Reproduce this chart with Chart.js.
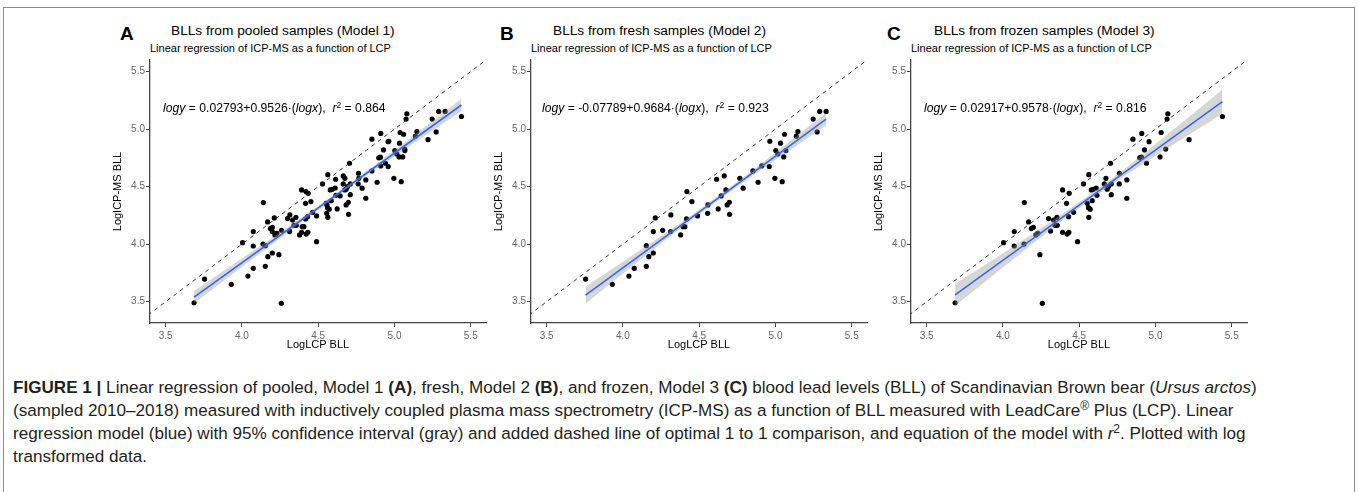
<!DOCTYPE html>
<html><head><meta charset="utf-8">
<script src="https://cdn.jsdelivr.net/npm/chart.js@4.4.1/dist/chart.umd.min.js"></script>
<style>
html,body{margin:0;padding:0;background:#fff;}
body{width:1358px;height:492px;position:relative;overflow:hidden;font-family:"Liberation Sans",Arial,sans-serif;}
.frame{position:absolute;left:3px;top:7px;width:1350px;height:490px;border:1px solid #8a8a8a;}
.abs{position:absolute;white-space:nowrap;color:#000;}
.letter{font-weight:bold;font-size:19px;line-height:20px;}
.ttl{font-size:13.7px;line-height:16px;}
.sub{font-size:11px;line-height:13px;}
.eq{font-size:12.2px;line-height:15px;}
.eq sup,.cap sup{font-size:0.7em;line-height:0;vertical-align:0.5em;}
canvas{position:absolute;}
.cap{position:absolute;left:13px;top:376px;font-size:17.1px;line-height:23.1px;color:#231f20;white-space:nowrap;}
</style></head>
<body>
<div class="frame"></div>

<div class="abs letter" style="left:120px;top:24px;">A</div>
<div class="abs ttl" style="left:171px;top:23px;">BLLs from pooled samples (Model 1)</div>
<div class="abs sub" style="left:150px;top:42px;">Linear regression of ICP-MS as a function of LCP</div>

<div class="abs letter" style="left:500px;top:24px;">B</div>
<div class="abs ttl" style="left:553px;top:23px;">BLLs from fresh samples (Model 2)</div>
<div class="abs sub" style="left:531px;top:42px;">Linear regression of ICP-MS as a function of LCP</div>

<div class="abs letter" style="left:887px;top:24px;">C</div>
<div class="abs ttl" style="left:934px;top:23px;">BLLs from frozen samples (Model 3)</div>
<div class="abs sub" style="left:911px;top:42px;">Linear regression of ICP-MS as a function of LCP</div>

<canvas id="cA" width="400" height="310" style="left:95px;top:50px;"></canvas>
<canvas id="cB" width="400" height="310" style="left:476px;top:50px;"></canvas>
<canvas id="cC" width="400" height="310" style="left:856px;top:50px;"></canvas>

<div class="abs eq" style="left:163px;top:101px;"><i>logy</i> = 0.02793+0.9526·(<i>logx</i>),&nbsp; <i>r</i><sup>2</sup> = 0.864</div>
<div class="abs eq" style="left:542px;top:101px;"><i>logy</i> = -0.07789+0.9684·(<i>logx</i>),&nbsp; <i>r</i><sup>2</sup> = 0.923</div>
<div class="abs eq" style="left:924px;top:101px;"><i>logy</i> = 0.02917+0.9578·(<i>logx</i>),&nbsp; <i>r</i><sup>2</sup> = 0.816</div>

<div class="cap"><b>FIGURE 1 |</b> Linear regression of pooled, Model 1 <b>(A)</b>, fresh, Model 2 <b>(B)</b>, and frozen, Model 3 <b>(C)</b> blood lead levels (BLL) of Scandinavian Brown bear (<i>Ursus arctos</i>)<br>(sampled 2010–2018) measured with inductively coupled plasma mass spectrometry (ICP-MS) as a function of BLL measured with LeadCare<sup>®</sup> Plus (LCP). Linear<br>regression model (blue) with 95% confidence interval (gray) and added dashed line of optimal 1 to 1 comparison, and equation of the model with <i>r</i><sup>2</sup>. Plotted with log<br>transformed data.</div>

<script>
// ---- tick labels ----
const xTicks = [3.5, 4.0, 4.5, 5.0, 5.5];
const yTicks = [3.5, 4.0, 4.5, 5.0, 5.5];
const xRange = [3.397, 5.6];
const yRange = [3.315, 5.6];
const identityLine = [3.3, 5.7];

// ---- fresh samples (Model 2) [LogLCP, LogICP-MS] ----
const freshPoints = [
 [3.755,3.697],[3.930,3.651],[4.039,3.723],[4.074,3.790],[4.153,3.807],[4.153,3.987],[4.170,3.891],
 [4.199,3.923],[4.199,4.109],[4.212,4.228],[4.260,4.120],[4.312,4.109],[4.314,4.254],[4.378,4.080],
 [4.395,4.152],[4.406,4.152],[4.417,4.219],[4.419,4.457],[4.452,4.370],[4.489,4.245],[4.555,4.268],
 [4.557,4.341],[4.614,4.564],[4.624,4.306],[4.644,4.419],[4.664,4.593],[4.675,4.471],[4.683,4.341],
 [4.697,4.364],[4.699,4.259],[4.766,4.572],[4.788,4.486],[4.852,4.636],[4.886,4.538],[4.910,4.680],
 [4.959,4.674],[4.996,4.572],[5.044,4.543],[4.963,4.894],[5.002,4.813],[5.015,4.784],[5.033,4.877],
 [5.054,4.758],[5.068,4.813],[5.059,4.955],[5.137,4.938],[5.147,4.978],[5.247,5.087],[5.273,4.975],
 [5.290,5.153],[5.332,5.153]
];

// ---- frozen samples (Model 3) ----
const frozenPoints = [
 [3.686,3.491],[4.258,3.486],[4.004,4.013],[4.074,3.984],[4.074,4.109],[4.138,4.001],[4.140,4.361],
 [4.168,4.193],[4.186,4.135],[4.199,4.146],[4.216,4.080],[4.229,4.094],[4.242,3.909],[4.299,4.222],
 [4.312,4.114],[4.332,4.210],[4.341,4.164],[4.354,4.233],[4.356,4.164],[4.391,4.471],[4.391,4.103],
 [4.417,4.355],[4.421,4.088],[4.432,4.103],[4.430,4.239],[4.434,4.442],[4.463,4.277],[4.489,4.022],
 [4.528,4.523],[4.552,4.355],[4.563,4.604],[4.561,4.317],[4.563,4.233],[4.572,4.304],[4.579,4.471],
 [4.585,4.378],[4.592,4.477],[4.611,4.488],[4.616,4.425],[4.664,4.523],[4.675,4.572],[4.683,4.477],
 [4.692,4.500],[4.710,4.523],[4.710,4.430],[4.762,4.523],[4.764,4.616],[4.812,4.558],[4.812,4.399],
 [4.705,4.703],[4.941,4.703],[4.897,4.750],[4.908,4.756],[5.030,4.758],[4.928,4.819],[5.067,4.826],
 [4.958,4.890],[4.852,4.912],[4.910,4.962],[5.037,4.970],[5.220,4.908],[5.076,5.087],[5.081,5.133],
 [5.439,5.109]
];

// ---- pooled samples (Model 1) = all fresh + frozen samples ----
const pooledPoints = freshPoints.concat(frozenPoints);

// ---- fitted lines (end points) ----
const pooledLineX = [3.686, 5.439];
const pooledLineY = [3.539, 5.209];
const freshLineX  = [3.755, 5.332];
const freshLineY  = [3.558, 5.086];
const frozenLineX = [3.686, 5.439];
const frozenLineY = [3.560, 5.239];

// ---- 95% confidence bands ----
const pooledBandX  = [3.686, 3.95, 4.20, 4.45, 4.70, 4.95, 5.20, 5.439];
const pooledBandLo = [3.487, 3.751, 4.001, 4.249, 4.489, 4.719, 4.941, 5.154];
const pooledBandHi = [3.591, 3.831, 4.057, 4.285, 4.521, 4.767, 5.021, 5.264];
const freshBandX   = [3.755, 4.00, 4.25, 4.50, 4.75, 5.00, 5.332];
const freshBandLo  = [3.483, 3.744, 4.006, 4.260, 4.502, 4.732, 5.031];
const freshBandHi  = [3.633, 3.848, 4.070, 4.300, 4.542, 4.796, 5.141];
const frozenBandX  = [3.686, 4.00, 4.30, 4.60, 4.90, 5.20, 5.439];
const frozenBandLo = [3.465, 3.798, 4.113, 4.411, 4.682, 4.935, 5.134];
const frozenBandHi = [3.655, 3.922, 4.183, 4.459, 4.762, 5.085, 5.344];

const FONT = '"Liberation Sans", Arial, sans-serif';

function xy(xs, ys) { return xs.map((x, i) => ({x: x, y: ys[i]})); }

function makePanel(id, pts, lx, ly, bx, blo, bhi) {
  const ctx = document.getElementById(id);
  new Chart(ctx, {
    type: 'scatter',
    data: {
      datasets: [
        { type: 'scatter', data: pts.map(p => ({x: p[0], y: p[1]})), pointRadius: 2.6,
          pointHoverRadius: 2.6, backgroundColor: '#000', borderWidth: 0, order: 5 },
        { type: 'line', data: xy(bx, bhi), borderWidth: 0, pointRadius: 0, fill: '+1',
          backgroundColor: 'rgba(153,153,153,0.4)', borderColor: 'rgba(0,0,0,0)',
          cubicInterpolationMode: 'monotone', order: 4 },
        { type: 'line', data: xy(bx, blo), borderWidth: 0, pointRadius: 0, fill: false,
          borderColor: 'rgba(0,0,0,0)', cubicInterpolationMode: 'monotone', order: 4 },
        { type: 'line', data: xy(lx, ly), borderColor: '#3366FF', borderWidth: 1.6,
          pointRadius: 0, fill: false, order: 2 },
        { type: 'line', data: xy(identityLine, identityLine), borderColor: '#333',
          borderWidth: 1, borderDash: [4, 4], pointRadius: 0, fill: false, order: 1 }
      ]
    },
    options: {
      responsive: false, animation: false, events: [],
      layout: { padding: { top: 10, right: 9, left: 0, bottom: 0 } },
      plugins: { legend: { display: false }, tooltip: { enabled: false } },
      scales: {
        x: {
          type: 'linear', min: xRange[0], max: xRange[1],
          afterBuildTicks: s => { s.ticks = xTicks.map(v => ({value: v})); },
          afterFit: s => { s.height = 37; },
          ticks: { font: { size: 10, family: FONT }, color: '#666', padding: 3,
                   maxRotation: 0, autoSkip: false, callback: v => Number(v).toFixed(1) },
          grid: { drawOnChartArea: false, drawTicks: true, tickLength: 4, color: '#444', lineWidth: 1 },
          border: { display: true, color: '#444', width: 1.3 },
          title: { display: true, text: 'LogLCP BLL', font: { size: 11, family: FONT },
                   color: '#000', padding: { top: 0, bottom: 8 } }
        },
        y: {
          type: 'linear', min: yRange[0], max: yRange[1],
          afterBuildTicks: s => { s.ticks = yTicks.map(v => ({value: v})); },
          afterFit: s => { s.width = 55; },
          ticks: { font: { size: 10, family: FONT }, color: '#666', padding: 1,
                   autoSkip: false, callback: v => Number(v).toFixed(1) },
          grid: { drawOnChartArea: false, drawTicks: true, tickLength: 4, color: '#444', lineWidth: 1 },
          border: { display: true, color: '#444', width: 1.3 },
          title: { display: true, text: 'LogICP-MS BLL', font: { size: 11, family: FONT },
                   color: '#000', padding: { top: 16, bottom: 0 } }
        }
      }
    }
  });
}

makePanel('cA', pooledPoints, pooledLineX, pooledLineY, pooledBandX, pooledBandLo, pooledBandHi);
makePanel('cB', freshPoints, freshLineX, freshLineY, freshBandX, freshBandLo, freshBandHi);
makePanel('cC', frozenPoints, frozenLineX, frozenLineY, frozenBandX, frozenBandLo, frozenBandHi);
</script>
</body></html>
